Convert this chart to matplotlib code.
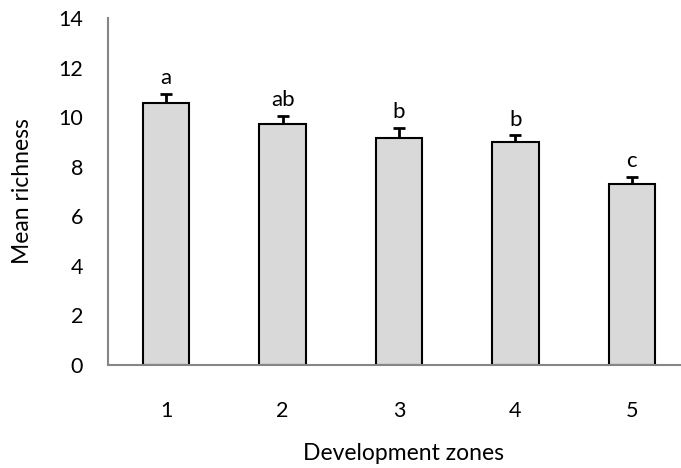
import matplotlib.pyplot as plt

# Data
zones = ['1', '2', '3', '4', '5']
richness = [10.56, 9.72, 9.15, 8.99, 7.30]
err_up = [0.37, 0.32, 0.42, 0.28, 0.28]
letters = ['a', 'ab', 'b', 'b', 'c']

plt.rcParams['font.family'] = ['Lato', 'DejaVu Sans']

fig = plt.figure(figsize=(6.81, 4.68), dpi=100)
ax = fig.add_axes((108/681, 103/468, 582/681, 347/468))

x = range(1, len(zones) + 1)
ax.bar(x, richness, width=0.4, color='#d9d9d9', edgecolor='black', linewidth=1.5, zorder=2)
ax.errorbar(x, richness, yerr=[[0]*len(err_up), err_up], fmt='none',
            ecolor='black', elinewidth=2, capsize=4, capthick=2, zorder=1)

for xi, v, e, t in zip(x, richness, err_up, letters):
    ax.annotate(t, (xi, v + e), xytext=(0, 7), textcoords='offset points',
                ha='center', va='baseline', fontsize=16)

ax.set_xlim(0.5, 5.5)
ax.set_ylim(0, 14)
ax.set_yticks(range(0, 15, 2))
ax.set_xticks(list(x))
ax.set_xticklabels(zones)
ax.tick_params(axis='both', length=0, labelsize=15.5)
ax.tick_params(axis='x', pad=26)
ax.tick_params(axis='y', pad=18)

for s in ['top', 'right']:
    ax.spines[s].set_visible(False)
for s in ['left', 'bottom']:
    ax.spines[s].set_color('#868686')
    ax.spines[s].set_linewidth(1.5)

ax.set_xlabel('Development zones', fontsize=16.5)
ax.set_ylabel('Mean richness', fontsize=16.5)
ax.xaxis.set_label_coords((404 - 108) / 582, -(460 - 365) / 347)
ax.yaxis.set_label_coords(-(108 - 22) / 582, 0.5)
ax.xaxis.label.set_va('baseline')
ax.yaxis.label.set_va('center')

fig.savefig('out.png', dpi=100)
